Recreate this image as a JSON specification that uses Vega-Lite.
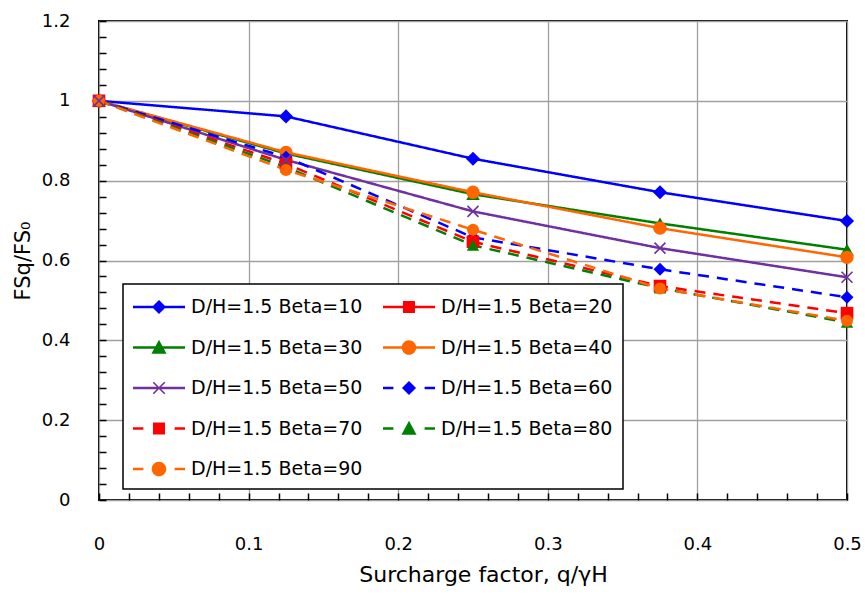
{
  "$schema": "https://vega.github.io/schema/vega-lite/v6.json",
  "width": 748,
  "height": 479,
  "autosize": {"type": "none"},
  "padding": {"left": 99, "top": 21, "right": 18, "bottom": 97},
  "background": "white",
  "config": {
    "font": "DejaVu Sans",
    "view": {"stroke": "black", "strokeWidth": 2},
    "legend": {"strokeWidth": 1.5},
    "axis": {
      "labelFont": "DejaVu Sans",
      "labelFontSize": 18,
      "labelColor": "black",
      "labelFlush": false,
      "titleFont": "DejaVu Sans",
      "titleFontSize": 21,
      "titleFontWeight": "normal",
      "titleColor": "black",
      "gridColor": "#a0a0a0",
      "gridWidth": 1.3,
      "domain": false
    }
  },
  "data": {
    "values": [
      {"q": 0, "fs": 1, "series": "D/H=1.5 Beta=10"},
      {"q": 0.125, "fs": 0.961, "series": "D/H=1.5 Beta=10"},
      {"q": 0.25, "fs": 0.855, "series": "D/H=1.5 Beta=10"},
      {"q": 0.375, "fs": 0.771, "series": "D/H=1.5 Beta=10"},
      {"q": 0.5, "fs": 0.699, "series": "D/H=1.5 Beta=10"},
      {"q": 0, "fs": 1, "series": "D/H=1.5 Beta=30"},
      {"q": 0.125, "fs": 0.868, "series": "D/H=1.5 Beta=30"},
      {"q": 0.25, "fs": 0.766, "series": "D/H=1.5 Beta=30"},
      {"q": 0.375, "fs": 0.693, "series": "D/H=1.5 Beta=30"},
      {"q": 0.5, "fs": 0.627, "series": "D/H=1.5 Beta=30"},
      {"q": 0, "fs": 1, "series": "D/H=1.5 Beta=40"},
      {"q": 0.125, "fs": 0.871, "series": "D/H=1.5 Beta=40"},
      {"q": 0.25, "fs": 0.771, "series": "D/H=1.5 Beta=40"},
      {"q": 0.375, "fs": 0.681, "series": "D/H=1.5 Beta=40"},
      {"q": 0.5, "fs": 0.608, "series": "D/H=1.5 Beta=40"},
      {"q": 0, "fs": 1, "series": "D/H=1.5 Beta=50"},
      {"q": 0.125, "fs": 0.852, "series": "D/H=1.5 Beta=50"},
      {"q": 0.25, "fs": 0.723, "series": "D/H=1.5 Beta=50"},
      {"q": 0.375, "fs": 0.631, "series": "D/H=1.5 Beta=50"},
      {"q": 0.5, "fs": 0.558, "series": "D/H=1.5 Beta=50"},
      {"q": 0, "fs": 1, "series": "D/H=1.5 Beta=60"},
      {"q": 0.125, "fs": 0.859, "series": "D/H=1.5 Beta=60"},
      {"q": 0.25, "fs": 0.658, "series": "D/H=1.5 Beta=60"},
      {"q": 0.375, "fs": 0.578, "series": "D/H=1.5 Beta=60"},
      {"q": 0.5, "fs": 0.508, "series": "D/H=1.5 Beta=60"},
      {"q": 0, "fs": 1, "series": "D/H=1.5 Beta=70"},
      {"q": 0.125, "fs": 0.842, "series": "D/H=1.5 Beta=70"},
      {"q": 0.25, "fs": 0.647, "series": "D/H=1.5 Beta=70"},
      {"q": 0.375, "fs": 0.536, "series": "D/H=1.5 Beta=70"},
      {"q": 0.5, "fs": 0.468, "series": "D/H=1.5 Beta=70"},
      {"q": 0, "fs": 1, "series": "D/H=1.5 Beta=80"},
      {"q": 0.125, "fs": 0.834, "series": "D/H=1.5 Beta=80"},
      {"q": 0.25, "fs": 0.638, "series": "D/H=1.5 Beta=80"},
      {"q": 0.375, "fs": 0.531, "series": "D/H=1.5 Beta=80"},
      {"q": 0.5, "fs": 0.445, "series": "D/H=1.5 Beta=80"},
      {"q": 0, "fs": 1, "series": "D/H=1.5 Beta=90"},
      {"q": 0.125, "fs": 0.827, "series": "D/H=1.5 Beta=90"},
      {"q": 0.25, "fs": 0.677, "series": "D/H=1.5 Beta=90"},
      {"q": 0.375, "fs": 0.53, "series": "D/H=1.5 Beta=90"},
      {"q": 0.5, "fs": 0.449, "series": "D/H=1.5 Beta=90"}
    ]
  },
  "resolve": {
    "scale": {"color": "independent", "shape": "independent", "size": "independent", "strokeDash": "independent", "opacity": "independent"},
    "axis": {"x": "independent", "y": "independent"},
    "legend": {"color": "independent", "shape": "independent"}
  },
  "layer": [
    {
      "mark": {"type": "line", "strokeWidth": 2.5},
      "encoding": {
        "x": {
          "field": "q", "type": "quantitative",
          "scale": {"domain": [0, 0.5], "nice": false, "zero": false},
          "axis": {
            "orient": "bottom",
            "values": [0, 0.1, 0.2, 0.3, 0.4, 0.5],
            "format": "~g",
            "ticks": false,
            "grid": true,
            "labelPadding": 35,
            "title": "Surcharge factor, q/γH",
            "titleFontSize": 22,
            "titleX": 384,
            "titlePadding": 11
          }
        },
        "y": {
          "field": "fs", "type": "quantitative",
          "scale": {"domain": [0, 1.2], "nice": false, "zero": false},
          "axis": {
            "orient": "left",
            "values": [0, 0.2, 0.4, 0.6, 0.8, 1, 1.2],
            "format": "~g",
            "ticks": false,
            "grid": true,
            "labelPadding": 29,
            "title": "FSq/FS₀",
            "titlePadding": 8
          }
        },
        "color": {
          "field": "series", "type": "nominal", "legend": null,
          "scale": {
            "domain": ["D/H=1.5 Beta=10", "D/H=1.5 Beta=20", "D/H=1.5 Beta=30", "D/H=1.5 Beta=40", "D/H=1.5 Beta=50", "D/H=1.5 Beta=60", "D/H=1.5 Beta=70", "D/H=1.5 Beta=80", "D/H=1.5 Beta=90"],
            "range": ["#0000ff", "#ff0000", "#008000", "#ff6600", "#7030a0", "#0000ff", "#ff0000", "#008000", "#ff6600"]
          }
        },
        "strokeDash": {
          "field": "series", "type": "nominal", "legend": null,
          "scale": {
            "domain": ["D/H=1.5 Beta=10", "D/H=1.5 Beta=20", "D/H=1.5 Beta=30", "D/H=1.5 Beta=40", "D/H=1.5 Beta=50", "D/H=1.5 Beta=60", "D/H=1.5 Beta=70", "D/H=1.5 Beta=80", "D/H=1.5 Beta=90"],
            "range": [[1, 0], [1, 0], [1, 0], [1, 0], [1, 0], [11, 8], [11, 8], [11, 8], [11, 8]]
          }
        }
      }
    },
    {
      "transform": [{"filter": "datum.series !== 'D/H=1.5 Beta=50'"}],
      "mark": {"type": "point", "filled": true, "opacity": 1},
      "encoding": {
        "x": {
          "field": "q", "type": "quantitative",
          "axis": {
            "orient": "bottom",
            "values": [0, 0.02, 0.04, 0.06, 0.08, 0.1, 0.12, 0.14, 0.16, 0.18, 0.2, 0.22, 0.24, 0.26, 0.28, 0.3, 0.32, 0.34, 0.36, 0.38, 0.4, 0.42, 0.44, 0.46, 0.48, 0.5],
            "labels": false, "grid": false, "title": null,
            "ticks": true, "tickSize": -7, "tickWidth": 1.5, "tickColor": "black"
          }
        },
        "y": {
          "field": "fs", "type": "quantitative",
          "axis": {
            "orient": "left",
            "values": [0, 0.04, 0.08, 0.12, 0.16, 0.2, 0.24, 0.28, 0.32, 0.36, 0.4, 0.44, 0.48, 0.52, 0.56, 0.6, 0.64, 0.68, 0.72, 0.76, 0.8, 0.84, 0.88, 0.92, 0.96, 1, 1.04, 1.08, 1.12, 1.16, 1.2],
            "labels": false, "grid": false, "title": null,
            "ticks": true, "tickSize": -7, "tickWidth": 1.5, "tickColor": "black"
          }
        },
        "color": {
          "field": "series", "type": "nominal", "legend": null,
          "scale": {
            "domain": ["D/H=1.5 Beta=10", "D/H=1.5 Beta=20", "D/H=1.5 Beta=30", "D/H=1.5 Beta=40", "D/H=1.5 Beta=60", "D/H=1.5 Beta=70", "D/H=1.5 Beta=80", "D/H=1.5 Beta=90"],
            "range": ["#0000ff", "#ff0000", "#008000", "#ff6600", "#0000ff", "#ff0000", "#008000", "#ff6600"]
          }
        },
        "shape": {
          "field": "series", "type": "nominal", "legend": null,
          "scale": {
            "domain": ["D/H=1.5 Beta=10", "D/H=1.5 Beta=20", "D/H=1.5 Beta=30", "D/H=1.5 Beta=40", "D/H=1.5 Beta=60", "D/H=1.5 Beta=70", "D/H=1.5 Beta=80", "D/H=1.5 Beta=90"],
            "range": ["diamond", "square", "triangle-up", "circle", "diamond", "square", "triangle-up", "circle"]
          }
        },
        "size": {
          "field": "series", "type": "nominal", "legend": null,
          "scale": {
            "domain": ["D/H=1.5 Beta=10", "D/H=1.5 Beta=20", "D/H=1.5 Beta=30", "D/H=1.5 Beta=40", "D/H=1.5 Beta=60", "D/H=1.5 Beta=70", "D/H=1.5 Beta=80", "D/H=1.5 Beta=90"],
            "range": [200, 144, 170, 200, 200, 144, 170, 200]
          }
        }
      }
    },
    {
      "transform": [{"filter": "datum.series === 'D/H=1.5 Beta=50'"}],
      "mark": {"type": "point", "filled": false, "shape": "M-1,-1L1,1M-1,1L1,-1", "size": 120, "strokeWidth": 1.6, "opacity": 1},
      "encoding": {
        "x": {"field": "q", "type": "quantitative", "axis": null},
        "y": {"field": "fs", "type": "quantitative", "axis": null},
        "color": {"value": "#7030a0"}
      }
    },
    {
      "mark": {"type": "point", "filled": true, "opacity": 0},
      "encoding": {
        "x": {"field": "q", "type": "quantitative", "axis": null},
        "y": {"field": "fs", "type": "quantitative", "axis": null},
        "color": {
          "field": "series", "type": "nominal",
          "scale": {
            "domain": ["D/H=1.5 Beta=10", "D/H=1.5 Beta=20", "D/H=1.5 Beta=30", "D/H=1.5 Beta=40", "D/H=1.5 Beta=50", "D/H=1.5 Beta=60", "D/H=1.5 Beta=70", "D/H=1.5 Beta=80", "D/H=1.5 Beta=90"],
            "range": ["#0000ff", "#ff0000", "#008000", "#ff6600", "#7030a0", "#0000ff", "#ff0000", "#008000", "#ff6600"]
          },
          "legend": {
            "title": null,
            "orient": "none",
            "direction": "horizontal",
            "legendX": 24,
            "legendY": 263,
            "columns": 2,
            "symbolSize": 676,
            "symbolStrokeWidth": 0,
            "symbolOpacity": 1,
            "labelFont": "DejaVu Sans",
            "labelFontSize": 19,
            "labelColor": "black",
            "labelOffset": 32,
            "labelLimit": 0,
            "columnPadding": 20,
            "rowPadding": 17.5,
            "padding": 10,
            "strokeColor": "black",
            "fillColor": "white"
          }
        },
        "shape": {
          "field": "series", "type": "nominal",
          "scale": {
            "domain": ["D/H=1.5 Beta=10", "D/H=1.5 Beta=20", "D/H=1.5 Beta=30", "D/H=1.5 Beta=40", "D/H=1.5 Beta=50", "D/H=1.5 Beta=60", "D/H=1.5 Beta=70", "D/H=1.5 Beta=80", "D/H=1.5 Beta=90"],
            "range": [
              "M-1,-0.096H3V0.096H-1ZM1,-0.54L1.54,0L1,0.54L0.46,0Z",
              "M-1,-0.096H3V0.096H-1ZM0.54,-0.46H1.46V0.46H0.54Z",
              "M-1,-0.096H3V0.096H-1ZM1,-0.6L1.58,0.48H0.42Z",
              "M-1,-0.096H3V0.096H-1ZM0.44,0A0.56,0.56 0 1,1 1.56,0A0.56,0.56 0 1,1 0.44,0Z",
              "M-1,-0.096H3V0.096H-1ZM0.604,-0.484L1.484,0.396L1.396,0.484L0.516,-0.396ZM1.484,-0.396L0.604,0.484L0.516,0.396L1.396,-0.484Z",
              "M-1,-0.096H-0.2V0.096H-1ZM2.2,-0.096H3V0.096H2.2ZM1,-0.54L1.54,0L1,0.54L0.46,0Z",
              "M-1,-0.096H-0.2V0.096H-1ZM2.2,-0.096H3V0.096H2.2ZM0.54,-0.46H1.46V0.46H0.54Z",
              "M-1,-0.096H-0.2V0.096H-1ZM2.2,-0.096H3V0.096H2.2ZM1,-0.6L1.58,0.48H0.42Z",
              "M-1,-0.096H-0.2V0.096H-1ZM2.2,-0.096H3V0.096H2.2ZM0.44,0A0.56,0.56 0 1,1 1.56,0A0.56,0.56 0 1,1 0.44,0Z"
            ]
          },
          "legend": {
            "title": null,
            "orient": "none",
            "direction": "horizontal",
            "legendX": 24,
            "legendY": 263,
            "columns": 2,
            "symbolSize": 676,
            "symbolStrokeWidth": 0,
            "symbolOpacity": 1,
            "labelFont": "DejaVu Sans",
            "labelFontSize": 19,
            "labelColor": "black",
            "labelOffset": 32,
            "labelLimit": 0,
            "columnPadding": 20,
            "rowPadding": 17.5,
            "padding": 10,
            "strokeColor": "black",
            "fillColor": "white"
          }
        }
      }
    }
  ]
}
